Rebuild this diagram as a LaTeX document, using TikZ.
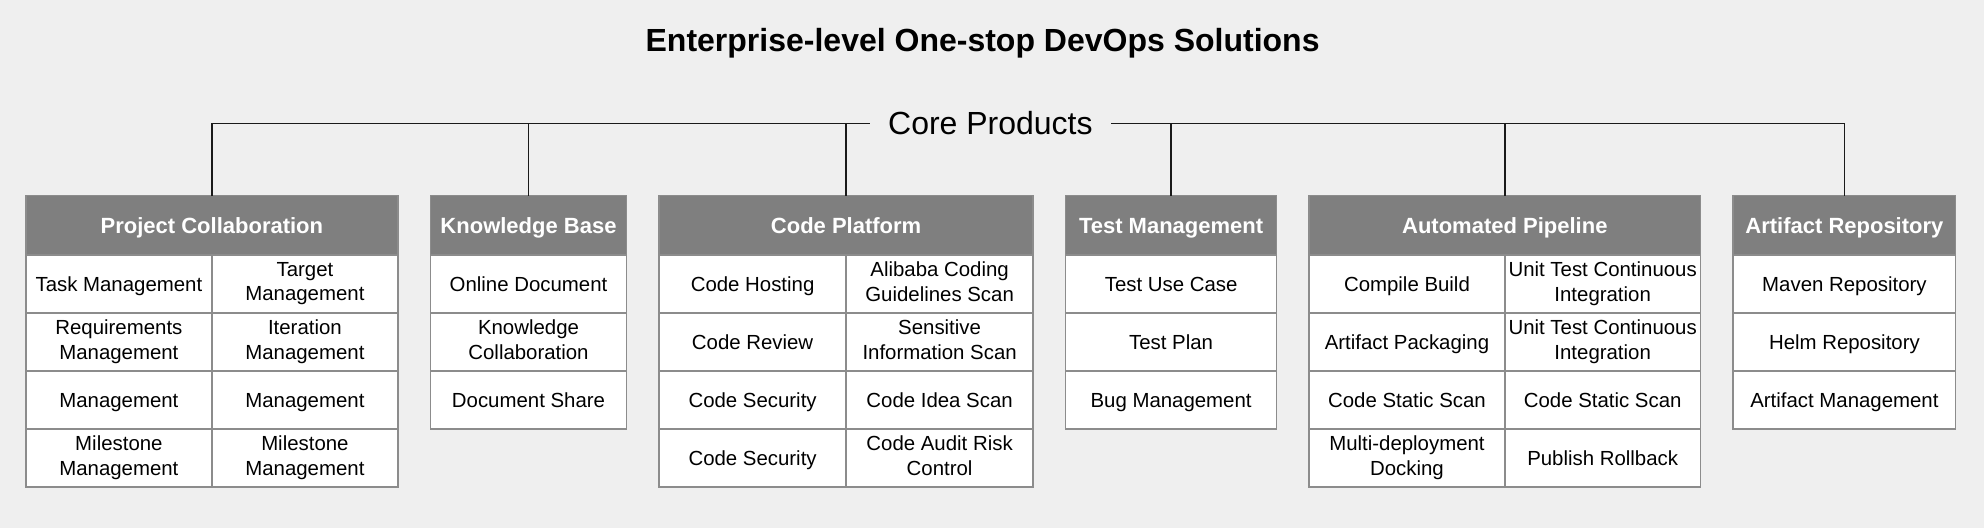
\documentclass[tikz,border=0pt]{standalone}
\usepackage{fontspec}
\setmainfont{Liberation Sans}
\usepackage{xcolor}
\usetikzlibrary{positioning}
\definecolor{bggray}{HTML}{EFEFEF}
\definecolor{headgray}{HTML}{7F7F7F}
\definecolor{cellgray}{HTML}{8C8C8C}
\definecolor{linkgray}{HTML}{1A1A1A}
\newcommand\cellstrut{\rule[-2.6pt]{0pt}{12.5pt}}

\begin{document}
\begin{tikzpicture}[
    node distance=0pt and 16.3pt,
    head/.style={rectangle, draw=cellgray, fill=headgray, text=white, font=\fontsize{11}{13}\selectfont\bfseries, minimum height=29.65pt, text height=10pt, text depth=2.1pt, inner sep=0pt, outer sep=0pt, line width=0.7pt},
    cell/.style={rectangle, draw=cellgray, fill=white, font=\fontsize{10.2}{12.4}\selectfont, minimum width=#1, minimum height=29pt, align=center, inner sep=0.5pt, outer sep=0pt, line width=0.7pt,
        execute at begin node=\cellstrut, execute at end node=\cellstrut},
    link/.style={draw=linkgray, line width=0.7pt}
]
\fill[bggray] (0,0) rectangle (992pt,-264pt);
\useasboundingbox (0,0) rectangle (992pt,-264pt);

% title and root
\node[font=\fontsize{16}{19}\selectfont\bfseries, anchor=base] (title) at (491.3pt,-25.85pt) {Enterprise-level One-stop DevOps Solutions};
\node[font=\fontsize{16}{19}\selectfont, anchor=base, inner xsep=9pt, text height=11.5pt, text depth=0pt] (core) at (495.2pt,-67.5pt) {Core Products};

% product headers
\node[head, minimum width=186pt, anchor=north west] (pc) at (12.95pt,-97.85pt) {Project Collaboration};
\node[head, minimum width=98pt, right=of pc] (kb) {Knowledge Base};
\node[head, minimum width=187pt, right=of kb] (cp) {Code Platform};
\node[head, minimum width=105.4pt, right=of cp] (tm) {Test Management};
\node[head, minimum width=195.7pt, right=of tm] (ap) {Automated Pipeline};
\node[head, minimum width=111.3pt, right=of ap] (ar) {Artifact Repository};

% project collaboration
\node[cell=93pt, below right=0pt of pc.south west] (pc1a) {Task Management};
\node[cell=93pt, right=0pt of pc1a] (pc1b) {Target\\Management};
\node[cell=93pt, below=of pc1a] (pc2a) {Requirements\\Management};
\node[cell=93pt, below=of pc1b] (pc2b) {Iteration\\Management};
\node[cell=93pt, below=of pc2a] (pc3a) {Management};
\node[cell=93pt, below=of pc2b] (pc3b) {Management};
\node[cell=93pt, below=of pc3a] (pc4a) {Milestone\\Management};
\node[cell=93pt, below=of pc3b] (pc4b) {Milestone\\Management};

% knowledge base
\node[cell=98pt, below=of kb] (kb1) {Online Document};
\node[cell=98pt, below=of kb1] (kb2) {Knowledge\\Collaboration};
\node[cell=98pt, below=of kb2] (kb3) {Document Share};

% code platform
\node[cell=93.5pt, below right=0pt of cp.south west] (cp1a) {Code Hosting};
\node[cell=93.5pt, right=0pt of cp1a] (cp1b) {Alibaba Coding\\Guidelines Scan};
\node[cell=93.5pt, below=of cp1a] (cp2a) {Code Review};
\node[cell=93.5pt, below=of cp1b] (cp2b) {Sensitive\\Information Scan};
\node[cell=93.5pt, below=of cp2a] (cp3a) {Code Security};
\node[cell=93.5pt, below=of cp2b] (cp3b) {Code Idea Scan};
\node[cell=93.5pt, below=of cp3a] (cp4a) {Code Security};
\node[cell=93.5pt, below=of cp3b] (cp4b) {Code Audit Risk\\Control};

% test management
\node[cell=105.4pt, below=of tm] (tm1) {Test Use Case};
\node[cell=105.4pt, below=of tm1] (tm2) {Test Plan};
\node[cell=105.4pt, below=of tm2] (tm3) {Bug Management};

% automated pipeline
\node[cell=97.85pt, below right=0pt of ap.south west] (ap1a) {Compile Build};
\node[cell=97.85pt, right=0pt of ap1a] (ap1b) {Unit Test Continuous\\Integration};
\node[cell=97.85pt, below=of ap1a] (ap2a) {Artifact Packaging};
\node[cell=97.85pt, below=of ap1b] (ap2b) {Unit Test Continuous\\Integration};
\node[cell=97.85pt, below=of ap2a] (ap3a) {Code Static Scan};
\node[cell=97.85pt, below=of ap2b] (ap3b) {Code Static Scan};
\node[cell=97.85pt, below=of ap3a] (ap4a) {Multi-deployment\\Docking};
\node[cell=97.85pt, below=of ap3b] (ap4b) {Publish Rollback};

% artifact repository
\node[cell=111.3pt, below=of ar] (ar1) {Maven Repository};
\node[cell=111.3pt, below=of ar1] (ar2) {Helm Repository};
\node[cell=111.3pt, below=of ar2] (ar3) {Artifact Management};

% tree lines
\draw[link] (pc.north) |- (core.west);
\draw[link] (kb.north) -- (kb.north |- core.west);
\draw[link] (cp.north) -- (cp.north |- core.west);
\draw[link] (tm.north) -- (tm.north |- core.east);
\draw[link] (ap.north) -- (ap.north |- core.east);
\draw[link] (ar.north) |- (core.east);
\end{tikzpicture}
\end{document}
